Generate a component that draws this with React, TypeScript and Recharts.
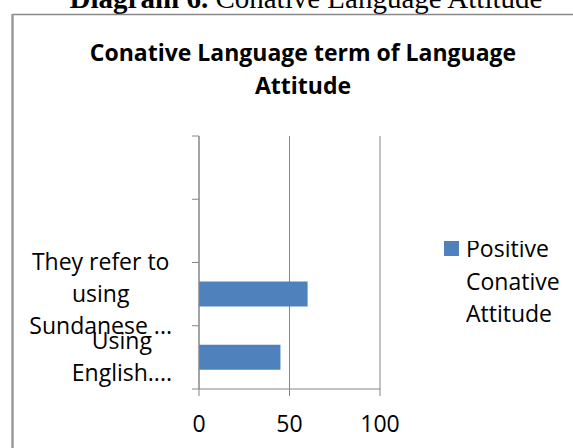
import React from 'react';
import { BarChart, Bar, XAxis, YAxis, CartesianGrid, Legend } from 'recharts';

// category labels, top to bottom (the two top bands are empty in the source)
const categories = ['', ' ', 'They refer to\nusing\nSundanese ...', 'Using\nEnglish....'];
const positiveConative: (number | null)[] = [null, null, 60, 45];
const seriesName = 'Positive Conative Attitude';
const xTicks = [0, 50, 100];
const chartTitle = ['Conative Language term of Language', 'Attitude'];

const data = categories.map((c, i) => ({ category: c, value: positiveConative[i] }));

const FONT = '"Open Sans", sans-serif';
const GREY = '#868686';
const BLUE = '#4f81bd';
const LINE_H = 32;
const TICK_SIZE = 7;
const TICK_MARGIN = 20;

let ctx: CanvasRenderingContext2D | null = null;
function textWidth(s: string) {
  if (!ctx) ctx = document.createElement('canvas').getContext('2d');
  if (!ctx) return s.length * 11;
  ctx.font = `23px ${FONT}`;
  return ctx.measureText(s).width;
}

function CategoryTick(props: any) {
  const { x, y, payload, index } = props;
  const axisX = x + TICK_MARGIN + TICK_SIZE;
  const half = payload.offset || 0;
  const lines = String(payload.value).split('\n').filter((l) => l.trim());
  const blockW = Math.max(0, ...lines.map(textWidth));
  const cx = x - blockW / 2;
  const first = y - ((lines.length - 1) * LINE_H) / 2;
  return (
    <g>
      <line x1={axisX - TICK_SIZE} x2={axisX} y1={y - half} y2={y - half} stroke={GREY} />
      {index === categories.length - 1 && (
        <line x1={axisX - TICK_SIZE} x2={axisX} y1={y + half} y2={y + half} stroke={GREY} />
      )}
      {lines.map((l, i) => (
        <text key={i} x={cx} y={first + i * LINE_H + 8} textAnchor="middle" fontSize={23} fontFamily={FONT} fill="#000">
          {l}
        </text>
      ))}
    </g>
  );
}

function LegendBox(props: any) {
  const item = (props.payload || [])[0];
  if (!item) return null;
  const words = String(item.value).split(' ');
  return (
    <svg width={130} height={100} style={{ display: 'block' }}>
      <rect x={0} y={0} width={15} height={15} fill={item.color} />
      {words.map((w, i) => (
        <text key={i} x={22} y={16 + i * 32.5} fontSize={23} fontFamily={FONT} fill="#000">
          {w}
        </text>
      ))}
    </svg>
  );
}

export default function App() {
  return (
    <div style={{ position: 'absolute', left: 0, top: 0, width: 573, height: 448, overflow: 'hidden', background: '#fff' }}>
      <svg width={573} height={448} style={{ position: 'absolute', left: 0, top: 0 }}>
        <text x={306} y={8} textAnchor="middle" fontSize={29} fontFamily='"Liberation Serif", serif' fill="#000">
          <tspan fontWeight="bold">Diagram 6.</tspan> Conative Language Attitude
        </text>
        <line x1={12} x2={573} y1={14.5} y2={14.5} stroke="#888" strokeWidth={1.5} />
        <line x1={12.5} x2={12.5} y1={14} y2={448} stroke="#999" strokeWidth={2.5} />
        {chartTitle.map((t, i) => (
          <text key={i} x={303} y={61 + i * 33} textAnchor="middle" fontSize={23} fontWeight="bold" fontFamily={FONT} fill="#000">
            {t}
          </text>
        ))}
      </svg>
      <div style={{ position: 'absolute', left: 0, top: 0 }}>
        <BarChart
          width={573}
          height={448}
          data={data}
          layout="vertical"
          margin={{ top: 136, right: 193, bottom: 19, left: 0 }}
        >
          <CartesianGrid horizontal={false} stroke={GREY} strokeDasharray="" />
          <XAxis
            type="number"
            domain={[0, 100]}
            ticks={xTicks}
            height={40}
            stroke={GREY}
            tickSize={TICK_SIZE}
            tickMargin={20}
            tick={{ fontSize: 23, fontFamily: FONT, fill: '#000' }}
          />
          <YAxis
            type="category"
            dataKey="category"
            width={199}
            stroke={GREY}
            tickLine={false}
            tickSize={TICK_SIZE}
            tickMargin={TICK_MARGIN}
            interval={0}
            tick={<CategoryTick />}
          />
          <Legend
            layout="vertical"
            align="center"
            verticalAlign="middle"
            content={<LegendBox />}
            wrapperStyle={{ left: 444, top: 241, width: 130 }}
          />
          <Bar dataKey="value" name={seriesName} fill={BLUE} barSize={25} isAnimationActive={false} />
        </BarChart>
      </div>
    </div>
  );
}
